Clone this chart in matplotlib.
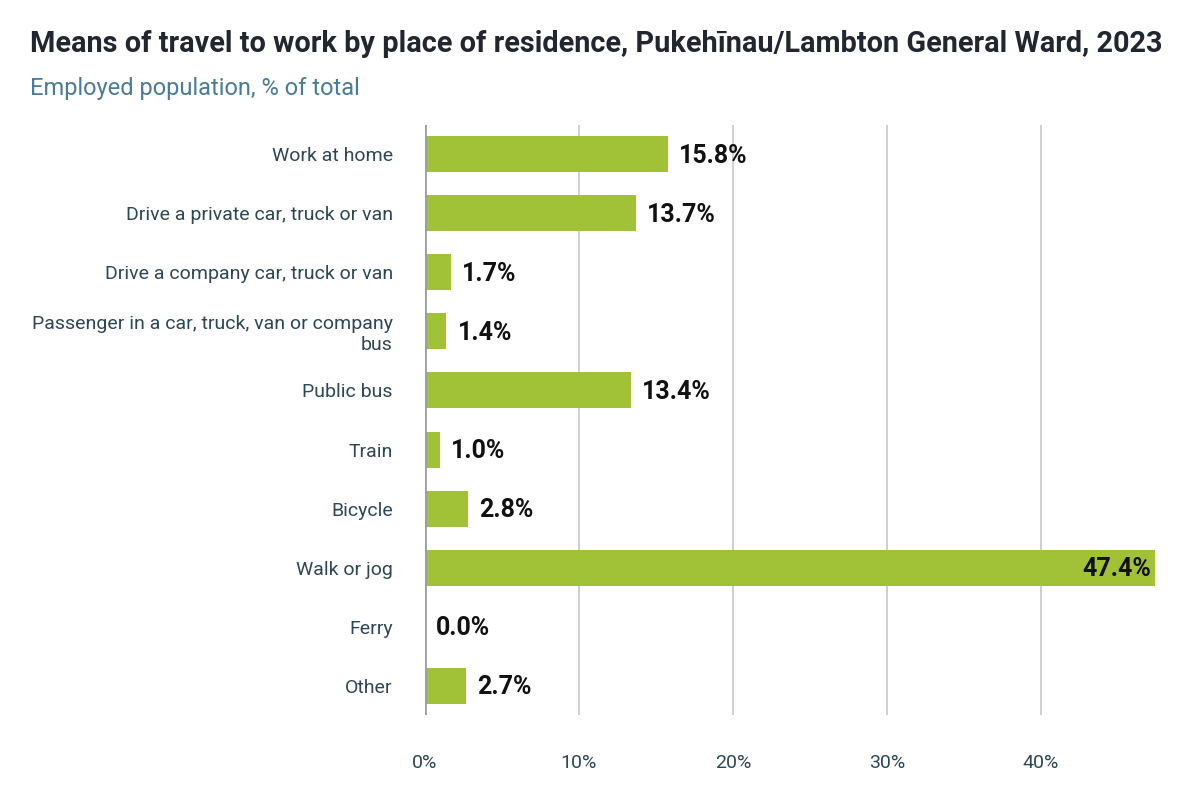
import matplotlib.pyplot as plt

categories = [
    "Work at home",
    "Drive a private car, truck or van",
    "Drive a company car, truck or van",
    "Passenger in a car, truck, van or company\nbus",
    "Public bus",
    "Train",
    "Bicycle",
    "Walk or jog",
    "Ferry",
    "Other",
]
values = [15.8, 13.7, 1.7, 1.4, 13.4, 1.0, 2.8, 47.4, 0.0, 2.7]
xticks = [0, 10, 20, 30, 40]

plt.rcParams['font.family'] = ['Roboto', 'DejaVu Sans']

fig = plt.figure(figsize=(12, 8), dpi=100)
ax = fig.add_axes([0.354, 0.106, 0.6085, 0.738])

ypos = list(range(len(categories)))
ax.barh(ypos, values, height=0.61, color='#a1c236', zorder=3)

ax.set_ylim(len(categories) - 0.5, -0.5)
ax.set_xlim(0, max(values))

for y, v in zip(ypos, values):
    if v > 40:
        ax.annotate(f"{v:.1f}%", (v, y), xytext=(-3, -1), textcoords='offset points',
                    ha='right', va='center', fontsize=18, fontweight='bold', color='#111111', zorder=4)
    else:
        ax.annotate(f"{v:.1f}%", (v, y), xytext=(8, -1), textcoords='offset points',
                    ha='left', va='center', fontsize=18, fontweight='bold', color='#111111', zorder=4)

ax.set_yticks(ypos)
ax.set_yticklabels(categories, fontsize=14, color='#2d4756', ha='right')
ax.tick_params(axis='y', length=0, pad=23)

ax.set_xticks(xticks)
ax.set_xticklabels([f"{t}%" for t in xticks], fontsize=14, color='#2d4756')
ax.tick_params(axis='x', length=0, pad=28)

ax.grid(axis='x', color='#c5cacd', linewidth=1.2, zorder=0)
ax.axvline(0, color='#9a9fa3', linewidth=2, zorder=5)
for s in ax.spines.values():
    s.set_visible(False)

fig.text(0.025, 0.945, "Means of travel to work by place of residence, Pukehīnau/Lambton General Ward, 2023",
         fontsize=20.8, fontweight='bold', color='#22262e', ha='left', va='center')
fig.text(0.025, 0.89, "Employed population, % of total",
         fontsize=17, color='#4a7c98', ha='left', va='center')

fig.savefig("out.png", dpi=100)
